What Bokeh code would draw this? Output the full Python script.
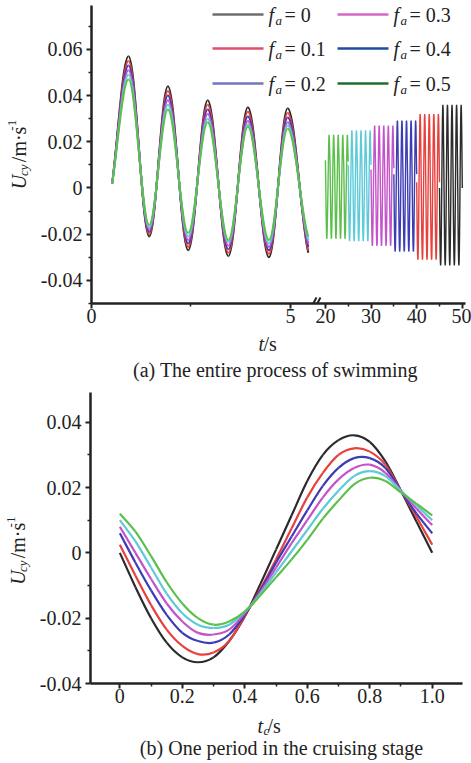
import numpy as np
from bokeh.plotting import figure
from bokeh.models import FixedTicker, CustomJSTickFormatter, Label, Range1d, Arrow
from bokeh.layouts import column, row
from bokeh.embed import file_html
from bokeh.resources import INLINE

# ---------------- data ----------------
FA_LABELS = ["0", "0.1", "0.2", "0.3", "0.4", "0.5"]
LINE_COLORS = ["#2b2b2b", "#e8403c", "#3c3cb4", "#c452c8", "#5ccbd8", "#5cbf4c"]
LEGEND_COLORS = ["#6e6e6e", "#e0506a", "#7474c0", "#d468c8", "#1e4e9c", "#1e6e2e"]

# (a) start-up stage: start point, alternating peaks / troughs, end point
t_key = [0.52, 0.93, 1.45, 1.92, 2.43, 2.92, 3.44, 3.93, 4.46, 4.93, 5.45]
u_fa0 = [0.002, 0.057, -0.021, 0.044, -0.027, 0.038, -0.0295, 0.035, -0.030, 0.0345, -0.028]
u_fa1 = [0.002, 0.055, -0.020, 0.042, -0.0255, 0.036, -0.028, 0.033, -0.0285, 0.0325, -0.027]
u_fa2 = [0.002, 0.053, -0.019, 0.040, -0.024, 0.034, -0.0265, 0.031, -0.027, 0.0305, -0.0255]
u_fa3 = [0.002, 0.051, -0.018, 0.038, -0.0225, 0.032, -0.025, 0.029, -0.0255, 0.0285, -0.024]
u_fa4 = [0.002, 0.049, -0.017, 0.036, -0.021, 0.030, -0.0235, 0.0275, -0.024, 0.027, -0.0225]
u_fa5 = [0.002, 0.047, -0.016, 0.034, -0.0195, 0.0285, -0.0225, 0.0265, -0.0225, 0.0257, -0.021]
U_EARLY = [u_fa0, u_fa1, u_fa2, u_fa3, u_fa4, u_fa5]

# (b) one period in the cruising stage
tc = [0.0, 0.05, 0.1, 0.15, 0.2, 0.25, 0.3, 0.35, 0.4, 0.45, 0.5,
      0.55, 0.6, 0.65, 0.7, 0.75, 0.8, 0.85, 0.9, 0.95, 1.0]
uc_fa0 = [0.0, -0.0105, -0.020, -0.0275, -0.032, -0.0335, -0.032, -0.027, -0.0195, -0.0095, 0.001,
          0.0115, 0.022, 0.030, 0.0345, 0.036, 0.034, 0.028, 0.019, 0.0095, 0.0]
uc_fa1 = [0.0025, -0.007, -0.016, -0.0235, -0.0285, -0.031, -0.0305, -0.027, -0.0193, -0.011, -0.002,
          0.0075, 0.017, 0.0245, 0.030, 0.032, 0.031, 0.027, 0.019, 0.011, 0.0025]
uc_fa2 = [0.006, -0.003, -0.0115, -0.019, -0.0245, -0.027, -0.0275, -0.025, -0.019, -0.0115, -0.003,
          0.005, 0.013, 0.0205, 0.026, 0.029, 0.029, 0.026, 0.019, 0.012, 0.006]
uc_fa3 = [0.008, 0.0, -0.008, -0.0155, -0.021, -0.0245, -0.025, -0.0235, -0.0185, -0.012, -0.0045,
          0.003, 0.010, 0.017, 0.0225, 0.026, 0.027, 0.0245, 0.019, 0.0135, 0.0085]
uc_fa4 = [0.010, 0.0035, -0.0045, -0.0125, -0.0185, -0.022, -0.023, -0.022, -0.018, -0.0125, -0.006,
          0.0005, 0.007, 0.0135, 0.019, 0.0235, 0.025, 0.0235, 0.019, 0.0145, 0.010]
uc_fa5 = [0.012, 0.0065, -0.001, -0.009, -0.0155, -0.020, -0.022, -0.021, -0.018, -0.013, -0.0075,
          -0.002, 0.004, 0.0105, 0.016, 0.021, 0.023, 0.022, 0.0185, 0.015, 0.0115]
U_PERIOD = [uc_fa0, uc_fa1, uc_fa2, uc_fa3, uc_fa4, uc_fa5]

# cruising blocks shown in panel (a): start time of each f_a block, cycles per block
cruise_start = [45, 40, 35, 30, 25, 20]
cruise_cycles = 5

# axis ticks
a_xticks = [0, 5, 20, 30, 40, 50]
a_xlabels = ["0", "5", "20", "30", "40", "50"]
a_xminor = [2.5, 25, 35, 45]
a_yticks = [-0.04, -0.02, 0.0, 0.02, 0.04, 0.06]
a_ylabels = ["-0.04", "-0.02", "0", "0.02", "0.04", "0.06"]
a_yminor = [-0.05, -0.03, -0.01, 0.01, 0.03, 0.05, 0.07]
b_xticks = [0.0, 0.2, 0.4, 0.6, 0.8, 1.0]
b_xlabels = ["0", "0.2", "0.4", "0.6", "0.8", "1.0"]
b_xminor = [0.1, 0.3, 0.5, 0.7, 0.9, 1.1]
b_yticks = [-0.04, -0.02, 0.0, 0.02, 0.04]
b_ylabels = ["-0.04", "-0.02", "0", "0.02", "0.04"]
b_yminor = [-0.03, -0.01, 0.01, 0.03]

# broken time axis
X_BREAK_LO = 5.5
X_BREAK_HI = 16.7
RIGHT_SCALE = 0.1147


def bx(t):
    t = np.asarray(t, dtype=float)
    return np.where(t <= X_BREAK_LO, t, X_BREAK_LO + (t - X_BREAK_HI) * RIGHT_SCALE)


FONT = "Liberation Serif"
INK = "#222222"
W = 471
YL_W = 34          # width of the strip that holds the rotated y-axis title


def fmt(pos, labels):
    return CustomJSTickFormatter(args=dict(pos=list(map(float, pos)), lab=labels), code="""
        let best = 0, d = Infinity;
        for (let i = 0; i < pos.length; i++) {
            const e = Math.abs(pos[i] - tick);
            if (e < d) { d = e; best = i; }
        }
        return lab[best];
    """)


def style_axes(p):
    p.xgrid.grid_line_color = None
    p.ygrid.grid_line_color = None
    p.outline_line_color = None
    p.background_fill_color = "white"
    p.border_fill_color = "white"
    for ax in (p.xaxis[0], p.yaxis[0]):
        ax.axis_line_width = 2.5
        ax.axis_line_color = INK
        ax.major_tick_line_color = INK
        ax.minor_tick_line_color = INK
        ax.major_tick_line_width = 2
        ax.minor_tick_line_width = 1.5
        ax.major_tick_in = 0
        ax.major_tick_out = 5
        ax.minor_tick_in = 0
        ax.minor_tick_out = 3
        ax.major_label_text_font = FONT
        ax.major_label_text_font_size = "20px"
        ax.major_label_text_color = INK
    p.yaxis[0].major_label_standoff = 4
    p.xaxis[0].major_label_standoff = 0


def make_conv(fr):
    def conv(cx, cy):
        x = fr["x0"] + (cx - fr["l"]) / (fr["r"] - fr["l"]) * (fr["x1"] - fr["x0"])
        y = fr["y1"] - (cy - fr["t"]) / (fr["b"] - fr["t"]) * (fr["y1"] - fr["y0"])
        return x, y
    return conv


def ident(cx, cy):
    return cx, cy


def add_text(p, conv, cx, cy, text, size=20, style="normal", align="left", angle=0.0):
    x, y = conv(cx, cy)
    p.add_layout(Label(x=x, y=y, text=text, text_font=FONT, text_font_size=f"{size}px",
                       text_font_style=style, text_align=align, text_baseline="middle",
                       angle=angle, text_color=INK))


def text_fig(w, h):
    f = figure(width=w, height=h, x_range=Range1d(0, w), y_range=Range1d(h, 0),
               x_axis_type=None, y_axis_type=None, output_backend="svg",
               toolbar_location=None, min_border=0)
    f.outline_line_color = None
    f.background_fill_color = "white"
    f.border_fill_color = "white"
    return f


def ylabel(p, cx, cy_start):
    # U_cy /m.s^-1 rotated, drawn piece by piece from the bottom up
    add_text(p, ident, cx, cy_start, "U", 20, "italic", angle=np.pi / 2)
    add_text(p, ident, cx + 5, cy_start - 14.5, "cy", 13, "italic", angle=np.pi / 2)
    add_text(p, ident, cx, cy_start - 30, "/m\u00b7s", 20, angle=np.pi / 2)
    add_text(p, ident, cx - 7, cy_start - 65, "-1", 13, angle=np.pi / 2)


def flat_tangent_segments(xs, ys):
    """Bezier pieces between consecutive key points (extrema get flat tangents)."""
    xs = np.asarray(xs, float)
    ys = np.asarray(ys, float)
    n = len(xs)
    out = dict(x0=[], y0=[], x1=[], y1=[], cx0=[], cy0=[], cx1=[], cy1=[])
    for j in range(n - 1):
        dx = xs[j + 1] - xs[j]
        dy = ys[j + 1] - ys[j]
        c0 = (xs[j] + dx / 3, ys[j] + dy / 3) if j == 0 else (xs[j] + 0.36 * dx, ys[j])
        c1 = (xs[j + 1] - dx / 3, ys[j + 1] - dy / 6) if j == n - 2 else (xs[j + 1] - 0.36 * dx, ys[j + 1])
        out["x0"].append(xs[j]); out["y0"].append(ys[j])
        out["x1"].append(xs[j + 1]); out["y1"].append(ys[j + 1])
        out["cx0"].append(c0[0]); out["cy0"].append(c0[1])
        out["cx1"].append(c1[0]); out["cy1"].append(c1[1])
    return out


def catmull_segments(xs, ys):
    """Bezier pieces through every sample point (Catmull-Rom tangents)."""
    xs = np.asarray(xs, float)
    ys = np.asarray(ys, float)
    n = len(xs)
    out = dict(x0=[], y0=[], x1=[], y1=[], cx0=[], cy0=[], cx1=[], cy1=[])
    for j in range(n - 1):
        a, b = max(j - 1, 0), min(j + 2, n - 1)
        ta = ((xs[j + 1] - xs[a]) / (j + 1 - a), (ys[j + 1] - ys[a]) / (j + 1 - a))
        tb = ((xs[b] - xs[j]) / (b - j), (ys[b] - ys[j]) / (b - j))
        out["x0"].append(xs[j]); out["y0"].append(ys[j])
        out["x1"].append(xs[j + 1]); out["y1"].append(ys[j + 1])
        out["cx0"].append(xs[j] + ta[0] / 3); out["cy0"].append(ys[j] + ta[1] / 3)
        out["cx1"].append(xs[j + 1] - tb[0] / 3); out["cy1"].append(ys[j + 1] - tb[1] / 3)
    return out


# ================= panel (a) =================
HA_MAIN = 331
HA_CAP = 52
FR1 = dict(l=91, r=465, t=5, b=303, x0=0.0, x1=float(bx(50.7)), y0=-0.05, y1=0.079)
p1 = figure(width=W - YL_W, height=HA_MAIN, x_range=Range1d(FR1["x0"], FR1["x1"]),
            y_range=Range1d(FR1["y0"], FR1["y1"]), output_backend="svg", toolbar_location=None,
            min_border_left=FR1["l"] - YL_W, min_border_right=W - FR1["r"],
            min_border_top=FR1["t"], min_border_bottom=HA_MAIN - FR1["b"])
style_axes(p1)
p1.xaxis[0].ticker = FixedTicker(ticks=list(map(float, bx(a_xticks))),
                                 minor_ticks=list(map(float, bx(a_xminor))))
p1.xaxis[0].formatter = fmt(bx(a_xticks), a_xlabels)
p1.yaxis[0].ticker = FixedTicker(ticks=a_yticks, minor_ticks=a_yminor)
p1.yaxis[0].formatter = fmt(a_yticks, a_ylabels)
conv1 = make_conv(FR1)

for i in range(6):
    seg = flat_tangent_segments(bx(t_key), U_EARLY[i])
    p1.bezier(line_color=LINE_COLORS[i], line_width=2, **seg)

for i in range(6):
    ts, us = [], []
    for k in range(cruise_cycles):
        ts += [cruise_start[i] + k + v for v in tc[:-1]]
        us += U_PERIOD[i][:-1]
    ts.append(cruise_start[i] + cruise_cycles)
    us.append(U_PERIOD[i][-1])
    p1.line(x=bx(ts), y=us, line_color=LINE_COLORS[i], line_width=1.4)

# legend (two columns)
row_y = [14, 48, 83]
col_x = [(212, 263), (337, 388)]
for i in range(6):
    c, r = divmod(i, 3)
    x_a, y_a = conv1(col_x[c][0], row_y[r])
    x_b, _ = conv1(col_x[c][1], row_y[r])
    p1.segment(x0=[x_a], y0=[y_a], x1=[x_b], y1=[y_a], line_color=LEGEND_COLORS[i], line_width=2.5)
    L = col_x[c][1]
    add_text(p1, conv1, L + 5, row_y[r], "f", 20, "italic")
    add_text(p1, conv1, L + 12, row_y[r] + 6, "a", 13, "italic")
    add_text(p1, conv1, L + 21, row_y[r], "= " + FA_LABELS[i], 20)

# axis break marks
for dx in (0, 4):
    xa, ya = conv1(310 + dx, 308)
    xb_, yb_ = conv1(316 + dx, 297)
    p1.add_layout(Arrow(end=None, x_start=xa, y_start=ya, x_end=xb_, y_end=yb_,
                        line_color=INK, line_width=2))

yA = text_fig(YL_W, HA_MAIN)
ylabel(yA, 18, 204)

capA = text_fig(W, HA_CAP)
add_text(capA, ident, 258, 343 - HA_MAIN, "t", 20, "italic")
add_text(capA, ident, 263, 343 - HA_MAIN, "/s", 20)
add_text(capA, ident, 275, 369 - HA_MAIN, "(a) The entire process of swimming", 20, align="center")

# ================= panel (b) =================
TOP_B = HA_MAIN + HA_CAP          # 383
HB_MAIN = 330
HB_CAP = 50
FR2 = dict(l=90, r=462, t=9, b=300, x0=-0.094, x1=1.097, y0=-0.04, y1=0.0491)
p2 = figure(width=W - YL_W, height=HB_MAIN, x_range=Range1d(FR2["x0"], FR2["x1"]),
            y_range=Range1d(FR2["y0"], FR2["y1"]), output_backend="svg", toolbar_location=None,
            min_border_left=FR2["l"] - YL_W, min_border_right=W - FR2["r"],
            min_border_top=FR2["t"], min_border_bottom=HB_MAIN - FR2["b"])
style_axes(p2)
p2.xaxis[0].ticker = FixedTicker(ticks=b_xticks, minor_ticks=b_xminor)
p2.xaxis[0].formatter = fmt(b_xticks, b_xlabels)
p2.yaxis[0].ticker = FixedTicker(ticks=b_yticks, minor_ticks=b_yminor)
p2.yaxis[0].formatter = fmt(b_yticks, b_ylabels)

for i in range(6):
    p2.bezier(line_color=LINE_COLORS[i], line_width=2.2, **catmull_segments(tc, U_PERIOD[i]))

yB = text_fig(YL_W, HB_MAIN)
ylabel(yB, 17, 601 - TOP_B)

capB = text_fig(W, HB_CAP)
y0b = TOP_B + HB_MAIN
add_text(capB, ident, 257, 725 - y0b, "t", 20, "italic")
add_text(capB, ident, 263, 730 - y0b, "c", 13, "italic")
add_text(capB, ident, 267, 725 - y0b, "/s", 20)
add_text(capB, ident, 281, 747 - y0b, "(b) One period in the cruising stage", 20, align="center")

layout = column(row(yA, p1), capA, row(yB, p2), capB)
open("out.html", "w").write(file_html(layout, INLINE))
